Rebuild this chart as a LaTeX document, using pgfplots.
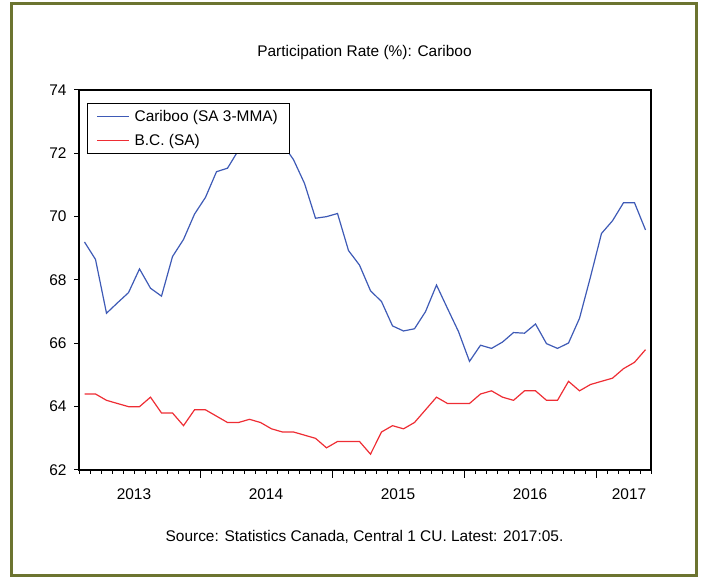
\documentclass[border=0pt]{standalone}
\usepackage{pgfplots}
\pgfplotsset{compat=1.18}
\usepackage{fontspec}
\setmainfont{Liberation Sans}
\definecolor{cblue}{RGB}{62,90,182}
\definecolor{cred}{RGB}{238,45,52}
\definecolor{frameolive}{RGB}{108,116,48}

\pgfplotstableread{
m v
1.5 69.2
2.5 68.65
3.5 66.95
4.5 67.28
5.5 67.6
6.5 68.35
7.5 67.74
8.5 67.49
9.5 68.74
10.5 69.28
11.5 70.08
12.5 70.61
13.5 71.42
14.5 71.53
15.5 72.1
16.5 72.5
17.5 72.7
18.5 72.6
19.5 72.3
20.5 71.8
21.5 71.05
22.5 69.95
23.5 70.0
24.5 70.1
25.5 68.93
26.5 68.47
27.5 67.66
28.5 67.32
29.5 66.55
30.5 66.39
31.5 66.46
32.5 67.0
33.5 67.84
34.5 67.1
35.5 66.37
36.5 65.43
37.5 65.94
38.5 65.84
39.5 66.04
40.5 66.34
41.5 66.32
42.5 66.61
43.5 65.99
44.5 65.84
45.5 66.01
46.5 66.79
47.5 68.1
48.5 69.47
49.5 69.87
50.5 70.44
51.5 70.44
52.5 69.58
}\cariboo

\pgfplotstableread{
m v
1.5 64.4
2.5 64.4
3.5 64.2
4.5 64.1
5.5 64.0
6.5 64.0
7.5 64.3
8.5 63.8
9.5 63.8
10.5 63.4
11.5 63.9
12.5 63.9
13.5 63.7
14.5 63.5
15.5 63.5
16.5 63.6
17.5 63.5
18.5 63.3
19.5 63.2
20.5 63.2
21.5 63.1
22.5 63.0
23.5 62.7
24.5 62.9
25.5 62.9
26.5 62.9
27.5 62.5
28.5 63.2
29.5 63.4
30.5 63.3
31.5 63.5
32.5 63.9
33.5 64.3
34.5 64.1
35.5 64.1
36.5 64.1
37.5 64.4
38.5 64.5
39.5 64.3
40.5 64.2
41.5 64.5
42.5 64.5
43.5 64.2
44.5 64.2
45.5 64.8
46.5 64.5
47.5 64.7
48.5 64.8
49.5 64.9
50.5 65.2
51.5 65.4
52.5 65.8
}\bc

\begin{document}
\begin{tikzpicture}[x=1bp,y=1bp]
\useasboundingbox (0,0) rectangle (704,578);
\draw[frameolive, line width=3bp] (11.5,2.5) rectangle (696.5,574.5);
\begin{axis}[
  at={(79bp,108bp)}, anchor=south west,
  scale only axis, width=572bp, height=380bp,
  xmin=1, xmax=53, ymin=62, ymax=74,
  axis line style={line width=1.2bp},
  tick style={line width=1bp, black},
  tick align=outside, tick pos=left,
  major tick length=8bp, minor tick length=4bp,
  ytick=\empty,
  extra y ticks={62,64,66,68,70,72,74},
  extra y tick style={major tick length=5bp},
  xtick={12,24,36,48}, xticklabels={},
  minor xtick={1,2,...,53},
  extra x ticks={6,18,30,42,51},
  extra x tick labels={2013,2014,2015,2016,2017},
  extra x tick style={major tick length=0pt},
  /pgf/number format/assume math mode=true,
  tick label style={font=\fontsize{15.5}{18}\selectfont},
  xticklabel style={yshift=-15bp},
  yticklabel style={xshift=-4bp},
  legend style={at={(0.014,0.966)}, anchor=north west, draw=black,
    line width=0.8bp, fill=white, font=\fontsize{15.5}{18}\selectfont,
    inner xsep=9bp, inner ysep=5bp, row sep=7bp},
  legend cell align=left,
  legend image code/.code={\draw[#1, line width=1.2bp] (0bp,0bp) -- (32bp,0bp); \path (35bp,0bp);},
]
\addplot[cblue, line width=1.2bp] table[x=m, y=v] {\cariboo};
\addlegendentry{Cariboo (SA 3-MMA)}
\addplot[cred, line width=1.2bp] table[x=m, y=v] {\bc};
\addlegendentry{B.C. (SA)}
\end{axis}
\node[font=\fontsize{15.5}{18}\selectfont] at (364.5,525) {Participation Rate (\%): Cariboo};
\node[font=\fontsize{15.5}{18}\selectfont] at (364.5,41) {Source: Statistics Canada, Central 1 CU. Latest: 2017:05.};
\end{tikzpicture}
\end{document}
